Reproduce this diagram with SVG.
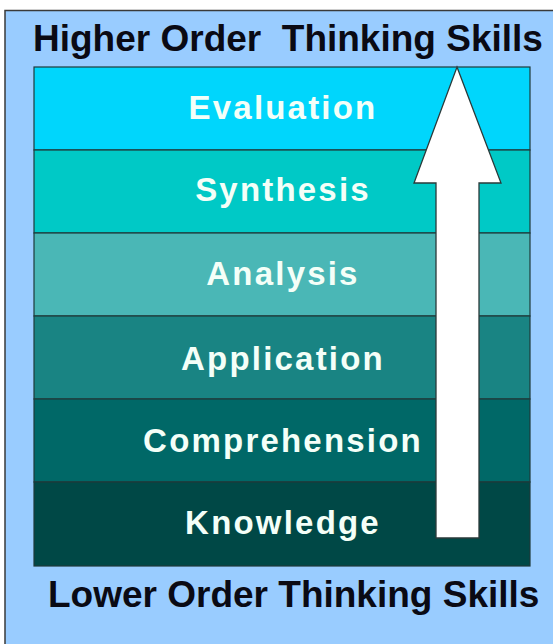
<svg xmlns="http://www.w3.org/2000/svg" width="553" height="644" viewBox="0 0 553 644">
<style>
.band{stroke:#1e3a3a;stroke-width:1.2}
.lbl{font-family:"Liberation Sans",Arial,sans-serif;font-weight:bold;font-size:33px;fill:#f4fff8;text-anchor:middle;letter-spacing:2.2px}
.ttl{font-family:"Liberation Sans",Arial,sans-serif;font-weight:bold;font-size:37px;fill:#0a0a14;white-space:pre}
</style>
<rect x="0" y="0" width="553" height="644" fill="#ffffff"/>
<rect x="5" y="10.5" width="560" height="650" fill="#99ccff" stroke="#3a3a3a" stroke-width="1.5"/>
<g id="title-top"><text class="ttl" x="33" y="51" xml:space="preserve">Higher Order  Thinking Skills</text></g>
<g id="title-bottom"><text class="ttl" x="48" y="607">Lower Order Thinking Skills</text></g>
<g id="evaluation"><rect class="band" x="34" y="67" width="496" height="83" fill="#00d6fc"/><text class="lbl" x="283" y="119">Evaluation</text></g>
<g id="synthesis"><rect class="band" x="34" y="150" width="496" height="83" fill="#00c9c6"/><text class="lbl" x="283" y="201">Synthesis</text></g>
<g id="analysis"><rect class="band" x="34" y="233" width="496" height="83" fill="#4ab7b6"/><text class="lbl" x="283" y="285">Analysis</text></g>
<g id="application"><rect class="band" x="34" y="316" width="496" height="83" fill="#198483"/><text class="lbl" x="283" y="370">Application</text></g>
<g id="comprehension"><rect class="band" x="34" y="399" width="496" height="83" fill="#006867"/><text class="lbl" x="283" y="452">Comprehension</text></g>
<g id="knowledge"><rect class="band" x="34" y="482" width="496" height="84" fill="#004846"/><text class="lbl" x="283" y="534">Knowledge</text></g>
<g id="connectors"><path d="M457,67 L501,183 L479,183 L479,538 L436,538 L436,183 L414,183 Z" fill="#ffffff" stroke="#2a3a3a" stroke-width="1.3" stroke-linejoin="miter"/></g>
</svg>
